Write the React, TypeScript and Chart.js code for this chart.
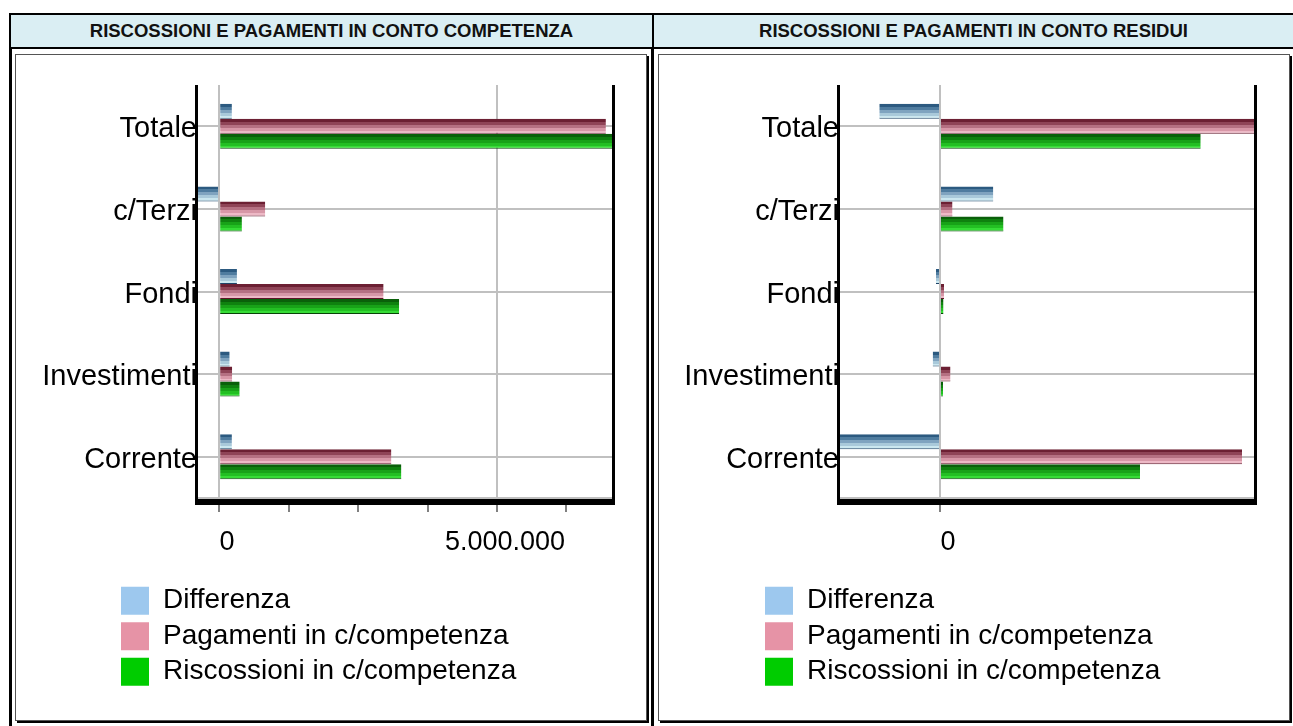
import React, { useEffect, useRef } from 'react';
import { Chart, registerables } from 'chart.js';

Chart.register(...registerables);

const FONT = "'Liberation Sans', Arial, Helvetica, sans-serif";

const categories = ['Totale', 'c/Terzi', 'Fondi', 'Investimenti', 'Corrente'];
const seriesLabels = ['Differenza', 'Pagamenti in c/competenza', 'Riscossioni in c/competenza'];

const competenzaDifferenza = [230000, -420000, 320000, 190000, 230000];
const competenzaPagamenti = [6960000, 830000, 2960000, 235000, 3100000];
const competenzaRiscossioni = [7140000, 410000, 3240000, 370000, 3280000];

const residuiDifferenza = [-607000, 533000, -40000, -73000, -1020000];
const residuiPagamenti = [3214000, 125000, 40000, 105000, 3020000];
const residuiRiscossioni = [2607000, 635000, 35000, 30000, 2000000];

const competenzaTicks = [0, 1250000, 2500000, 3750000, 5000000, 6250000];
const competenzaTickLabels = ['0', '', '', '', '5.000.000', ''];
const competenzaGridValues = [0, 5000000];

const residuiTicks = [0];
const residuiTickLabels = ['0'];
const residuiGridValues = [0];

const legendColors = ['#9DC8EE', '#E693A6', '#00CC00'];
const barBands = [
  ['#2C5A80', '#4F7C9F', '#7FA3BF', '#A9C9DA', '#CBE7EF'],
  ['#6C2033', '#8F4457', '#B57082', '#D797A7', '#EDB9C6'],
  ['#0A600A', '#0F810F', '#18A218', '#23BF23', '#36DC36'],
];
const barEdges = ['#1E4468', '#5E1428', '#074407'];
const CATEGORY_PCT = 0.545;

function bandGradient(seriesIndex: number) {
  return (ctx: any) => {
    const chart = ctx.chart;
    const ys = chart.scales && chart.scales.y;
    if (!chart.chartArea || !ys || ctx.dataIndex === undefined) return legendColors[seriesIndex];
    const center = ys.getPixelForValue(ctx.dataIndex);
    const band = Math.abs(ys.getPixelForValue(1) - ys.getPixelForValue(0));
    const group = band * CATEGORY_PCT;
    const chunk = group / 3;
    const top = center - group / 2 + chunk * seriesIndex;
    const g = chart.ctx.createLinearGradient(0, top, 0, top + chunk);
    const cols = barBands[seriesIndex];
    cols.forEach((c, k) => {
      g.addColorStop(k / cols.length, c);
      g.addColorStop(Math.min(1, (k + 1) / cols.length - 0.0001), c);
    });
    return g;
  };
}

const axisFrame = {
  id: 'axisFrame',
  afterDraw(chart: any) {
    const { ctx, chartArea: a } = chart;
    ctx.save();
    ctx.fillStyle = '#C0C0C0';
    ctx.fillRect(a.left, a.bottom - 1, a.right - a.left, 2);
    ctx.fillStyle = '#000';
    ctx.fillRect(a.left - 3, a.top, 3, a.bottom - a.top + 7);
    ctx.fillRect(a.right, a.top, 3, a.bottom - a.top + 7);
    ctx.fillRect(a.left - 3, a.bottom + 1, a.right - a.left + 6, 6);
    ctx.restore();
  },
};

type PanelProps = {
  values: number[][];
  min: number;
  max: number;
  ticks: number[];
  tickLabels: string[];
  gridValues: number[];
  padRight: number;
  chartLeft: number;
  legendLeft: number;
  left: number;
};

function BarPanel(p: PanelProps) {
  const ref = useRef<HTMLCanvasElement>(null);
  useEffect(() => {
    if (!ref.current) return;
    const legendShift = {
      id: 'legendShift',
      afterLayout(chart: any) {
        const lg = chart.legend;
        if (!lg) return;
        lg.left = p.legendLeft;
        lg.width = lg.right - lg.left;
      },
    };
    const chart = new Chart(ref.current, {
      type: 'bar',
      data: {
        labels: categories,
        datasets: p.values.map((d, i) => ({
          label: seriesLabels[i],
          data: d,
          backgroundColor: bandGradient(i),
          borderColor: barEdges[i],
          borderWidth: { top: 0, left: 0, right: 0, bottom: 1 },
          borderSkipped: false,
          categoryPercentage: CATEGORY_PCT,
          barPercentage: 1,
        })),
      },
      options: {
        indexAxis: 'y',
        animation: false,
        responsive: false,
        maintainAspectRatio: false,
        events: [],
        layout: { padding: { left: 0, right: p.padRight, top: 30, bottom: 24.3 } },
        scales: {
          x: {
            type: 'linear',
            position: 'bottom',
            min: p.min,
            max: p.max,
            afterBuildTicks: (s: any) => {
              s.ticks = p.ticks.map((v) => ({ value: v }));
            },
            afterFit: (s: any) => {
              s.height = 81.2;
            },
            grid: {
              color: (c: any) => (c.tick && p.gridValues.includes(c.tick.value) ? '#C0C0C0' : 'rgba(0,0,0,0)'),
              tickColor: '#808080',
              lineWidth: 2,
              tickLength: 14,
            },
            border: { display: false },
            ticks: {
              autoSkip: false,
              maxRotation: 0,
              minRotation: 0,
              padding: 14,
              labelOffset: 8,
              color: '#000',
              font: { family: FONT, size: 27 },
              callback: (v: any) => {
                const k = p.ticks.indexOf(Number(v));
                return k >= 0 ? p.tickLabels[k] : '';
              },
            },
          },
          y: {
            type: 'category',
            offset: true,
            afterFit: (s: any) => {
              s.width = p.chartLeft;
            },
            grid: { color: '#C0C0C0', lineWidth: 2, offset: false, drawTicks: false },
            border: { display: false },
            ticks: {
              autoSkip: false,
              color: '#000',
              padding: 1,
              labelOffset: 3,
              font: { family: FONT, size: 29 },
            },
          },
        },
        plugins: {
          tooltip: { enabled: false },
          legend: {
            position: 'bottom',
            align: 'start',
            fullSize: false,
            labels: {
              boxWidth: 28,
              boxHeight: 28,
              padding: 7.5,
              color: '#000',
              font: { family: FONT, size: 28 },
              generateLabels: (chart: any) =>
                (Chart.defaults.plugins.legend.labels.generateLabels as any)(chart).map((it: any, i: number) => ({
                  ...it,
                  fillStyle: legendColors[i],
                  strokeStyle: legendColors[i],
                  lineWidth: 0,
                })),
            },
          },
        },
      } as any,
      plugins: [axisFrame, legendShift],
    });
    return () => chart.destroy();
  }, []);
  return (
    <canvas
      ref={ref}
      width={630}
      height={665}
      style={{ position: 'absolute', left: p.left, top: 55, width: 630, height: 665 }}
    />
  );
}

const abs = (left: number, top: number, width: number, height: number, extra: any = {}) => ({
  position: 'absolute' as const,
  left,
  top,
  width,
  height,
  ...extra,
});

const headerText = {
  fontFamily: FONT,
  fontWeight: 'bold' as const,
  fontSize: 18.5,
  color: '#111',
  display: 'flex',
  alignItems: 'center',
  justifyContent: 'center',
  whiteSpace: 'nowrap' as const,
};

export default function App() {
  useEffect(() => {
    document.body.style.overflow = 'hidden';
  }, []);
  return (
    <div style={abs(0, 0, 1293, 726, { overflow: 'hidden', background: '#fff' })}>
      <div style={abs(11, 15, 641, 32, { background: '#DAEEF3', ...headerText })}>
        RISCOSSIONI E PAGAMENTI IN CONTO COMPETENZA
      </div>
      <div style={abs(654, 15, 639, 32, { background: '#DAEEF3', ...headerText })}>
        RISCOSSIONI E PAGAMENTI IN CONTO RESIDUI
      </div>
      <div style={abs(9, 13, 1284, 2, { background: '#000' })} />
      <div style={abs(9, 47, 1284, 2, { background: '#000' })} />
      <div style={abs(9, 13, 2, 713, { background: '#000' })} />
      <div style={abs(11, 49, 1, 677, { background: '#000' })} />
      <div style={abs(652, 13, 2, 36, { background: '#000' })} />
      <div style={abs(651, 49, 3, 677, { background: '#000' })} />

      <div
        style={abs(15, 54, 632, 667, {
          boxSizing: 'border-box',
          border: '1px solid #555',
          boxShadow: '2px 2px 0 0 #000',
        })}
      />
      <div
        style={abs(658, 54, 632, 667, {
          boxSizing: 'border-box',
          border: '1px solid #555',
          boxShadow: '2px 2px 0 0 #000',
        })}
      />

      <BarPanel
        values={[competenzaDifferenza, competenzaPagamenti, competenzaRiscossioni]}
        min={-380000}
        max={7070000}
        ticks={competenzaTicks}
        tickLabels={competenzaTickLabels}
        gridValues={competenzaGridValues}
        padRight={34}
        chartLeft={182}
        legendLeft={97.5}
        left={16}
      />
      <BarPanel
        values={[residuiDifferenza, residuiPagamenti, residuiRiscossioni]}
        min={-1000000}
        max={3140000}
        ticks={residuiTicks}
        tickLabels={residuiTickLabels}
        gridValues={residuiGridValues}
        padRight={35}
        chartLeft={181}
        legendLeft={98.5}
        left={659}
      />
    </div>
  );
}
